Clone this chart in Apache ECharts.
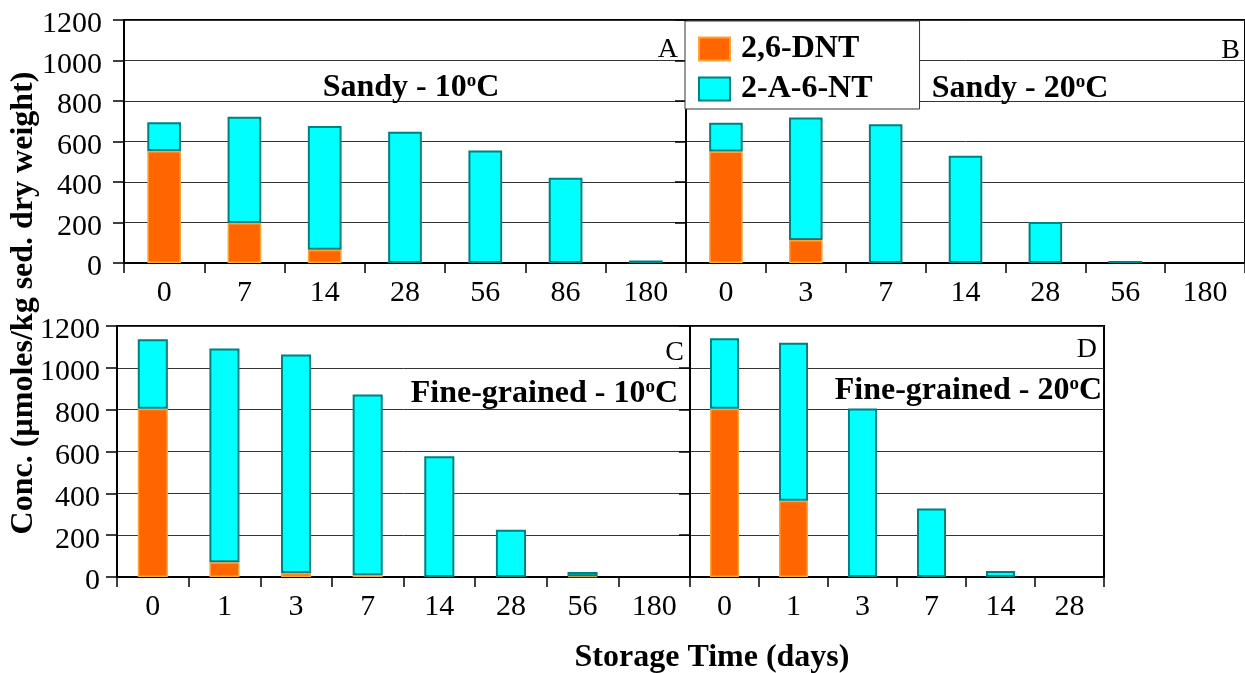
<!DOCTYPE html>
<html>
<head>
<meta charset="utf-8">
<title>Storage time – 2,6-DNT and 2-A-6-NT</title>
<script src="https://cdn.jsdelivr.net/npm/echarts@6/dist/echarts.min.js"></script>
<style>
  html, body { margin: 0; padding: 0; background: #fff; }
  #chart { width: 1245px; height: 673px; }
</style>
</head>
<body>
<div id="chart"></div>
<script>
// Storage time (days) for each panel
const catsA = ['0', '7', '14', '28', '56', '86', '180'];
const catsB = ['0', '3', '7', '14', '28', '56', '180'];
const catsC = ['0', '1', '3', '7', '14', '28', '56', '180'];
const catsD = ['0', '1', '3', '7', '14', '28'];

// 2,6-DNT (µmoles/kg sediment dry weight)
const dntA = [553, 197, 65, 0, 0, 0, 0];
const dntB = [551, 114, 0, 0, 0, 0, 0];
const dntC = [804, 70, 19, 8, 0, 0, 4, 0];
const dntD = [804, 365, 0, 0, 0, 0];

// 2-A-6-NT, stacked on top of 2,6-DNT
const antA = [142, 525, 612, 648, 555, 421, 12];
const antB = [142, 604, 685, 530, 203, 10, 0];
const antC = [333, 1023, 1045, 864, 577, 226, 20, 0];
const antD = [337, 755, 806, 327, 29, 0];

const yTicks = { min: 0, max: 1200, interval: 200 };

const panelTitles = [
  { letter: 'A', text: 'Sandy - 10' },
  { letter: 'B', text: 'Sandy - 20' },
  { letter: 'C', text: 'Fine-grained - 10' },
  { letter: 'D', text: 'Fine-grained - 20' }
];

const FONT = '"Liberation Serif", "Times New Roman", Times, serif';
const DNT_NAME = '2,6-DNT';
const ANT_NAME = '2-A-6-NT';

const grids = [
  { left: 124, top: 20, width: 562, height: 243 },
  { left: 686, top: 20, width: 563, height: 243 },
  { left: 117, top: 326, width: 573, height: 251 },
  { left: 690, top: 326, width: 414, height: 251 }
];
const panels = [
  { cats: catsA, dnt: dntA, ant: antA, labels: true, margin: 22 },
  { cats: catsB, dnt: dntB, ant: antB, labels: false, margin: 22 },
  { cats: catsC, dnt: dntC, ant: antC, labels: true, margin: 17 },
  { cats: catsD, dnt: dntD, ant: antD, labels: false, margin: 17 }
];

const noZero = arr => arr.map(v => (v === 0 ? '-' : v));

const xAxis = [], yAxis = [], series = [];
panels.forEach((p, i) => {
  xAxis.push({
    type: 'category', gridIndex: i, data: p.cats,
    axisLine: { lineStyle: { color: '#000', width: 2 } },
    axisTick: { show: true, interval: 0, length: 10, lineStyle: { color: '#000', width: 1.5 } },
    axisLabel: { interval: 0, margin: 15, color: '#000', fontFamily: FONT, fontSize: 30 },
    splitLine: { show: false }
  });
  yAxis.push({
    type: 'value', gridIndex: i,
    min: yTicks.min, max: yTicks.max, interval: yTicks.interval,
    axisLine: { show: true, lineStyle: { color: '#000', width: 2 } },
    axisTick: { show: true, inside: false, length: 11, lineStyle: { color: '#000', width: 1.5 } },
    axisLabel: {
      show: p.labels, margin: p.margin, color: '#000',
      fontFamily: FONT, fontSize: 30,
      verticalAlign: 'top', lineHeight: 9,
      formatter: v => String(v)
    },
    splitLine: { show: true, lineStyle: { color: '#333', width: 1 } }
  });
  series.push({
    name: DNT_NAME, type: 'bar', stack: 'p' + i,
    xAxisIndex: i, yAxisIndex: i, barWidth: '42%',
    data: noZero(p.dnt),
    itemStyle: { color: '#FF6600', borderColor: '#FFA238', borderWidth: 1.5 },
    emphasis: { disabled: true }
  });
  series.push({
    name: ANT_NAME, type: 'bar', stack: 'p' + i,
    xAxisIndex: i, yAxisIndex: i, barWidth: '42%',
    data: noZero(p.ant),
    itemStyle: { color: '#00FFFF', borderColor: '#008080', borderWidth: 2 },
    emphasis: { disabled: true }
  });
});

// Panel headings with a raised "o" for degrees
function heading(text, x, y, align) {
  return {
    type: 'text', z: 10,
    style: {
      x: x, y: y,
      text: '{a|' + text + '}{o|o}{a|C}',
      align: align, verticalAlign: 'middle',
      textAlign: align, textVerticalAlign: 'middle',
      rich: {
        a: { fontFamily: FONT, fontWeight: 'bold', fontSize: 32, lineHeight: 32, fill: '#000' },
        o: { fontFamily: FONT, fontWeight: 'bold', fontSize: 19, lineHeight: 24, verticalAlign: 'top', fill: '#000' }
      }
    }
  };
}
function letter(text, x, y) {
  return {
    type: 'text', z: 10,
    style: {
      x: x, y: y, text: text,
      fontFamily: FONT, fontSize: 28, fill: '#000',
      align: 'right', verticalAlign: 'middle',
      textAlign: 'right', textVerticalAlign: 'middle'
    }
  };
}

const graphic = [
  heading(panelTitles[0].text, 411, 88, 'center'),
  heading(panelTitles[1].text, 1020, 89, 'center'),
  heading(panelTitles[2].text, 678, 394, 'right'),
  heading(panelTitles[3].text, 1102, 391, 'right'),
  letter(panelTitles[0].letter, 678, 50),
  letter(panelTitles[1].letter, 1240, 51),
  letter(panelTitles[2].letter, 684, 353),
  letter(panelTitles[3].letter, 1097, 350),
  {
    type: 'text', z: 10,
    style: {
      x: 712, y: 658, text: 'Storage Time (days)',
      fontFamily: FONT, fontWeight: 'bold', fontSize: 32, fill: '#000',
      align: 'center', verticalAlign: 'middle',
      textAlign: 'center', textVerticalAlign: 'middle'
    }
  },
  {
    type: 'text', z: 10, x: 24, y: 303, rotation: Math.PI / 2,
    style: {
      x: 0, y: 0, text: 'Conc. (µmoles/kg sed. dry weight)',
      fontFamily: FONT, fontWeight: 'bold', fontSize: 32, fill: '#000',
      align: 'center', verticalAlign: 'middle',
      textAlign: 'center', textVerticalAlign: 'middle'
    }
  }
];

const chart = echarts.init(document.getElementById('chart'), null, { renderer: 'canvas' });
chart.setOption({
  animation: false,
  backgroundColor: '#fff',
  grid: grids.map(g => Object.assign({ show: true, borderColor: '#000', borderWidth: 2, containLabel: false }, g)),
  legend: {
    data: [DNT_NAME, ANT_NAME],
    orient: 'vertical', left: 685, top: 21,
    backgroundColor: '#fff', borderColor: '#333', borderWidth: 1,
    padding: [12, 47, 4, 13],
    itemWidth: 31, itemHeight: 23, itemGap: 8,
    icon: 'rect',
    selectedMode: false,
    textStyle: { fontFamily: FONT, fontWeight: 'bold', fontSize: 32, color: '#000', padding: [0, 0, 0, 6] }
  },
  xAxis: xAxis,
  yAxis: yAxis,
  series: series,
  graphic: graphic
});
</script>
</body>
</html>
